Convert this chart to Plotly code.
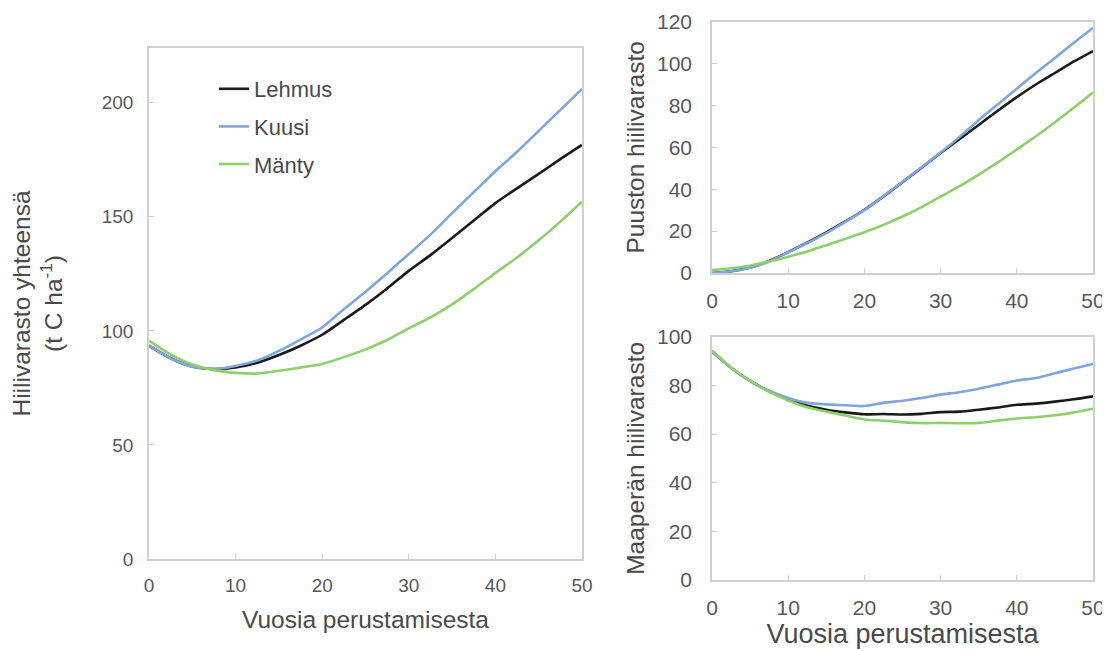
import plotly.graph_objects as go

years = [0, 2.5, 5, 7.5, 10, 12.5, 15, 17.5, 20, 22.5, 25, 27.5, 30, 32.5, 35, 37.5, 40, 42.5, 45, 47.5, 50]

# Total carbon stock (t C ha-1)
total_lehmus = [93.5, 88, 84.4, 83.3, 84, 86, 89.4, 93.5, 98.3, 104.8, 111.4, 118.6, 126.3, 133.2, 140.7, 148.4, 156, 162.5, 168.8, 175.3, 181.5]
total_kuusi = [93.5, 88, 84.3, 83.3, 84.6, 87, 91.2, 96.2, 101.5, 109.5, 117.2, 125.3, 133.7, 142.2, 151.6, 160.8, 170, 178.5, 187.7, 196.9, 206]
total_manty = [95.7, 89.6, 85.3, 82.8, 81.6, 81.3, 82.5, 83.9, 85.5, 88.5, 91.9, 96, 101.1, 105.9, 111.6, 118.3, 125.4, 132.2, 139.7, 147.9, 156.6]

# Tree carbon stock
tree_lehmus = [0, 0.8, 2.6, 5.7, 10, 14.5, 19.4, 24.6, 30.2, 36.6, 43.4, 50.3, 57.3, 64, 70.7, 77.5, 84, 90, 95.5, 101, 106]
tree_kuusi = [0, 0.8, 2.5, 5.5, 9.9, 14.2, 19, 24.4, 30, 36.7, 43.5, 50.5, 57.5, 65, 73, 80.5, 88, 95.5, 102.7, 110, 117]
tree_manty = [1.4, 2.3, 3.5, 5.5, 7.8, 10.3, 13.3, 16.3, 19.5, 23, 27, 31.5, 36.5, 41.5, 47, 52.8, 59, 65.3, 72, 79, 86.2]

# Soil carbon stock
soil_lehmus = [94, 87.2, 81.8, 77.6, 74.2, 71.6, 70, 68.9, 68.1, 68.2, 68, 68.3, 69, 69.2, 70, 70.9, 72, 72.5, 73.3, 74.3, 75.5]
soil_kuusi = [94, 87.2, 81.8, 77.8, 74.8, 72.8, 72.2, 71.8, 71.5, 72.8, 73.7, 74.8, 76.2, 77.2, 78.6, 80.3, 82, 83, 85, 86.9, 88.8]
soil_manty = [94.3, 87.3, 81.8, 77.3, 73.8, 71, 69.2, 67.6, 66, 65.5, 64.9, 64.5, 64.6, 64.4, 64.6, 65.5, 66.4, 66.9, 67.7, 68.9, 70.4]

names = ["Lehmus", "Kuusi", "Mänty"]
colors = ["#1a1a1a", "#7fa5dd", "#8dd06b"]

# page body has an 8px margin; figure is sized to fill the rest of the window
OFF = 8
W, H = 1110 - OFF, 651 - OFF
def xd(a, b):
    return [(a - OFF) / W, (b - OFF) / W]
def yd(top, bottom):
    return [(H - (bottom - OFF)) / H, (H - (top - OFF)) / H]

fig = go.Figure()

panels = [
    ("x", "y", [total_lehmus, total_kuusi, total_manty], True),
    ("x2", "y2", [tree_lehmus, tree_kuusi, tree_manty], False),
    ("x3", "y3", [soil_lehmus, soil_kuusi, soil_manty], False),
]
for xa, ya, series, show in panels:
    for name, col, vals in zip(names, colors, series):
        fig.add_trace(go.Scatter(
            x=years, y=vals, mode="lines", name=name,
            line=dict(color=col, width=2.6, shape="spline", smoothing=0.6),
            xaxis=xa, yaxis=ya, showlegend=show, legendgroup=name,
        ))

FONT = "Liberation Sans, Arial, sans-serif"
TXT = "#595959"
TTL = "#4a4a4a"
base = dict(showgrid=False, zeroline=False, showline=True, linecolor="#d0d0d0",
            linewidth=1.5, mirror=True, ticks="inside", ticklen=5, tickcolor="#d0d0d0",
            automargin=False)
left_x = dict(base, tickfont=dict(family=FONT, size=19, color=TXT), ticklabelstandoff=8)
left_y = dict(base, tickfont=dict(family=FONT, size=19, color=TXT), ticklabelstandoff=10)
right_x = dict(base, tickfont=dict(family=FONT, size=21, color=TXT), ticklabelstandoff=8)
right_y = dict(base, tickfont=dict(family=FONT, size=21, color=TXT), ticklabelstandoff=14)

fig.update_layout(
    width=W, height=H,
    margin=dict(l=0, r=0, t=0, b=0, autoexpand=False),
    paper_bgcolor="white", plot_bgcolor="white",
    font=dict(family=FONT),
    showlegend=True,
    legend=dict(x=(214 - OFF) / W, y=(H - (68 - OFF)) / H, xanchor="left", yanchor="top",
                font=dict(family=FONT, size=22, color=TTL),
                tracegroupgap=6, bgcolor="rgba(0,0,0,0)"),
    xaxis=dict(domain=xd(149, 582), range=[0, 50], dtick=10, anchor="y",
               title=dict(text="Vuosia perustamisesta", font=dict(family=FONT, size=24.5, color=TTL), standoff=16),
               **left_x),
    yaxis=dict(domain=yd(48, 559), range=[0, 224], dtick=50, anchor="x",
               title=dict(text="Hiilivarasto yhteensä<br>(t C ha<sup>-1</sup>)",
                          font=dict(family=FONT, size=24.5, color=TTL), standoff=34),
               **left_y),
    xaxis2=dict(domain=xd(712, 1093), range=[0, 50], dtick=10, anchor="y2", **right_x),
    yaxis2=dict(domain=yd(21.7, 273), range=[0, 120], dtick=20, anchor="x2",
                title=dict(text="Puuston hiilivarasto", font=dict(family=FONT, size=24.5, color=TTL), standoff=5),
                **right_y),
    xaxis3=dict(domain=xd(712, 1093), range=[0, 50], dtick=10, anchor="y3",
                title=dict(text="Vuosia perustamisesta", font=dict(family=FONT, size=27, color=TTL), standoff=2),
                **right_x),
    yaxis3=dict(domain=yd(336.7, 580), range=[0, 100], dtick=20, anchor="x3",
                title=dict(text="Maaperän hiilivarasto", font=dict(family=FONT, size=24.5, color=TTL), standoff=5),
                **right_y),
)

fig.write_html("out.html")
